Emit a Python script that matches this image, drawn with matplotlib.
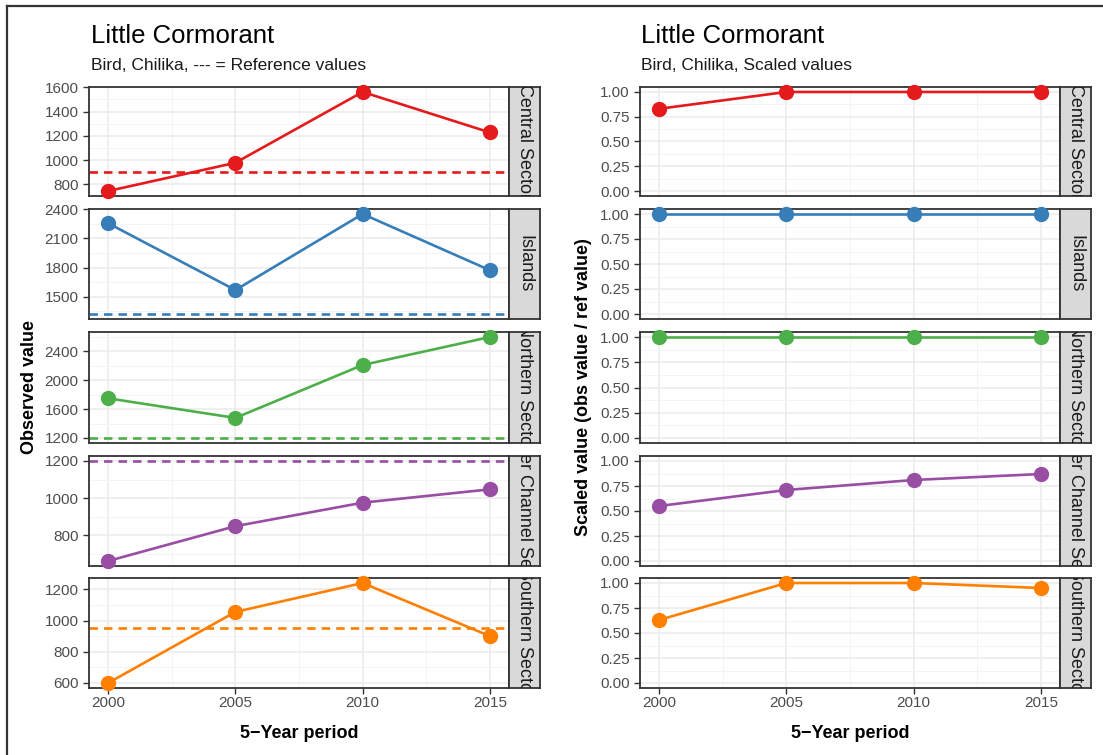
import matplotlib
matplotlib.use("Agg")
import matplotlib.pyplot as plt
from matplotlib.lines import Line2D

plt.rcParams['font.family'] = ['Liberation Sans', 'DejaVu Sans']

# ---------------- data ----------------
years = [2000, 2005, 2010, 2015]
sectors = ["Central Sector", "Islands", "Northern Sector",
           "Outer Channel Sector", "Southern Sector"]
colors = ["#E41A1C", "#377EB8", "#4DAF4A", "#984EA3", "#FF7F00"]

central_obs = [745, 978, 1562, 1228]
islands_obs = [2255, 1568, 2350, 1772]
northern_obs = [1750, 1478, 2212, 2600]
outer_obs = [660, 848, 975, 1047]
southern_obs = [600, 1055, 1240, 900]
ref_values = [900, 1322, 1200, 1200, 950]

central_scaled = [0.83, 1.0, 1.0, 1.0]
islands_scaled = [1.0, 1.0, 1.0, 1.0]
northern_scaled = [1.0, 1.0, 1.0, 1.0]
outer_scaled = [0.55, 0.71, 0.81, 0.87]
southern_scaled = [0.63, 1.0, 1.0, 0.95]

observed = [central_obs, islands_obs, northern_obs, outer_obs, southern_obs]
scaled = [central_scaled, islands_scaled, northern_scaled, outer_scaled, southern_scaled]

obs_ticks = [[800, 1000, 1200, 1400, 1600],
             [1500, 1800, 2100, 2400],
             [1200, 1600, 2000, 2400],
             [800, 1000, 1200],
             [600, 800, 1000, 1200]]
scaled_ticks = [0.0, 0.25, 0.5, 0.75, 1.0]
scaled_ticklabels = ["0.00", "0.25", "0.50", "0.75", "1.00"]

title = "Little Cormorant"
subtitle_left = "Bird, Chilika, --- = Reference values"
subtitle_right = "Bird, Chilika, Scaled values"
xlabel = "5\u2212Year period"
ylabel_left = "Observed value"
ylabel_right = "Scaled value (obs value / ref value)"

# ---------------- layout ----------------
W, H = 1103, 755
fig = plt.figure(figsize=(W / 100, H / 100), dpi=100)
fig.patch.set_facecolor("white")

tops = [87, 209, 332, 456, 578]
heights = [109, 110, 111, 110, 110]
panel_w = 420
strip_w = 31
left_x0 = 89
right_x0 = 640

BORDER = "#333333"
TICKC = "#4D4D4D"
GRID = "#EBEBEB"
XLIM = (2000 - 0.75, 2015 + 0.75)


def style_axes(ax, bottom):
    ax.set_facecolor("white")
    for s in ax.spines.values():
        s.set_color(BORDER)
        s.set_linewidth(1.3)
    ax.tick_params(axis="both", colors=BORDER, length=4, width=1.0,
                   labelcolor=TICKC, labelsize=11)
    ax.set_xticks(years)
    ax.set_xticks([2002.5, 2007.5, 2012.5], minor=True)
    ax.set_xlim(*XLIM)
    ax.grid(True, which="major", color=GRID, linewidth=1.1, zorder=0)
    ax.grid(True, which="minor", color="#F3F3F3", linewidth=0.6, zorder=0)
    ax.set_axisbelow(True)
    if bottom:
        ax.set_xticklabels([str(y) for y in years])
        ax.tick_params(axis="x", pad=2)
    else:
        ax.tick_params(axis="x", which="both", length=0, labelbottom=False)
    ax.tick_params(axis="both", which="minor", length=0)


def add_strip(x0, top, h, label):
    sax = fig.add_axes([(x0 + panel_w) / W, 1 - (top + h) / H, strip_w / W, h / H])
    sax.set_facecolor("#D9D9D9")
    for s in sax.spines.values():
        s.set_color(BORDER)
        s.set_linewidth(1.3)
    sax.set_xticks([])
    sax.set_yticks([])
    t = sax.text(0.5, 0.5, label, rotation=-90, ha="center", va="center",
                 fontsize=13, color="#1A1A1A", transform=sax.transAxes)
    t.set_clip_on(True)
    t.set_clip_box(sax.bbox)
    return sax


for i in range(5):
    bottom = (i == 4)
    # ----- left: observed values -----
    ax = fig.add_axes([left_x0 / W, 1 - (tops[i] + heights[i]) / H,
                       panel_w / W, heights[i] / H])
    style_axes(ax, bottom)
    vals = observed[i]
    lo = min(vals + [ref_values[i]])
    hi = max(vals + [ref_values[i]])
    pad = 0.05 * (hi - lo)
    ax.set_yticks(obs_ticks[i])
    step = obs_ticks[i][1] - obs_ticks[i][0]
    mids = [t - step / 2 for t in obs_ticks[i]] + [obs_ticks[i][-1] + step / 2]
    ax.set_yticks(mids, minor=True)
    ax.set_ylim(lo - pad, hi + pad)
    ax.set_xlim(*XLIM)
    ax.axhline(ref_values[i], color=colors[i], linewidth=1.9,
               linestyle=(0, (3.2, 2.3)), zorder=2)
    ax.plot(years, vals, color=colors[i], linewidth=1.9, marker="o",
            markersize=10, zorder=3, clip_on=False)
    add_strip(left_x0, tops[i], heights[i], sectors[i])

    # ----- right: scaled values -----
    ax2 = fig.add_axes([right_x0 / W, 1 - (tops[i] + heights[i]) / H,
                        panel_w / W, heights[i] / H])
    style_axes(ax2, bottom)
    ax2.set_yticks(scaled_ticks)
    ax2.set_yticklabels(scaled_ticklabels)
    ax2.set_yticks([0.125, 0.375, 0.625, 0.875], minor=True)
    ax2.set_ylim(-0.05, 1.05)
    ax2.set_xlim(*XLIM)
    ax2.plot(years, scaled[i], color=colors[i], linewidth=1.9, marker="o",
             markersize=10, zorder=3, clip_on=False)
    add_strip(right_x0, tops[i], heights[i], sectors[i])

# ---------------- titles and labels ----------------
for x0, sub in [(left_x0 + 2, subtitle_left), (right_x0 + 1, subtitle_right)]:
    fig.text(x0 / W, 1 - 43 / H, title, fontsize=18.5, color="black",
             ha="left", va="baseline")
    fig.text(x0 / W, 1 - 70 / H, sub, fontsize=12.5, color="#1A1A1A",
             ha="left", va="baseline")

mid_y = 1 - ((tops[0] + tops[4] + heights[4]) / 2) / H
fig.text(30 / W, mid_y, ylabel_left, rotation=90, fontsize=13,
         fontweight="bold", ha="center", va="center")
fig.text(583 / W, mid_y, ylabel_right, rotation=90, fontsize=13,
         fontweight="bold", ha="center", va="center")
fig.text((left_x0 + panel_w / 2) / W, 1 - 733 / H, xlabel, fontsize=13,
         fontweight="bold", ha="center", va="center")
fig.text((right_x0 + panel_w / 2) / W, 1 - 733 / H, xlabel, fontsize=13,
         fontweight="bold", ha="center", va="center")

# frame lines (left and top) of the original image
fig.add_artist(Line2D([7 / W, 7 / W], [0, 1 - 6 / H], color="#333333",
                      linewidth=1.6, transform=fig.transFigure))
fig.add_artist(Line2D([7 / W, 1], [1 - 6 / H, 1 - 6 / H], color="#333333",
                      linewidth=1.6, transform=fig.transFigure))

fig.savefig("out.png", dpi=100)
